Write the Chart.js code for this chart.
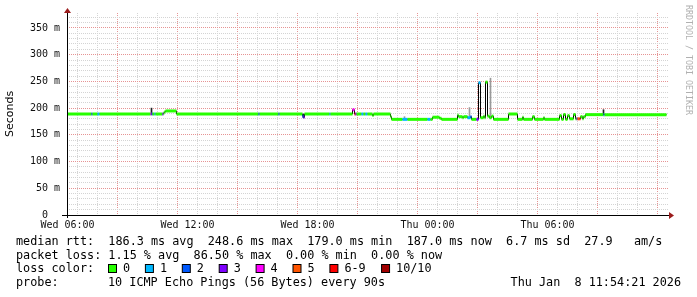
<!DOCTYPE html>
<html>
<head>
<meta charset="utf-8">
<script src="https://cdn.jsdelivr.net/npm/chart.js@4.4.0/dist/chart.umd.min.js"></script>
<style>
  html, body { margin: 0; padding: 0; background: #fff; }
  #stat { display: block; }
</style>
</head>
<body>
<canvas id="stat" width="697" height="297"></canvas>
<script>
// hours since Wed 00:00, median rtt (ms) and lost pings (of 10) for each step
const times = [6.00, 7.20, 7.25, 7.50, 7.60, 10.15, 10.20, 10.25, 10.35, 10.40,
    10.75, 10.80, 10.85, 10.90, 11.45, 15.55, 15.60, 16.55, 16.60, 17.75,
    17.80, 17.85, 19.10, 19.15, 20.25, 20.35, 20.40, 20.45, 20.70, 20.80,
    20.90, 21.00, 21.25, 21.30, 22.15, 22.20, 22.75, 23.00, 24.00, 24.15,
    24.25, 24.60, 24.70, 25.50, 25.55, 25.75, 25.80, 26.00, 26.15, 26.20,
    26.45, 26.55, 26.65, 26.80, 26.85, 26.90, 27.00, 27.10, 27.20, 27.30,
    28.05, 28.50, 28.75, 28.80, 29.25, 29.35, 29.80, 29.85, 30.60, 30.70,
    30.80, 30.90, 31.00, 31.10, 31.30, 31.40, 31.45, 31.50, 31.60, 31.65,
    31.75, 31.80, 31.90, 32.80, 32.85];
const median = [189, 189, 189, 189, 189, 189, 189, 189, 189, 189,
    189, 191, 193, 194.7, 189, 189, 189, 189, 189, 185,
    183, 189, 189, 189, 197, 189, 189, 189, 189, 189,
    189, 189, 186, 189, 184, 179, 179, 179, 179, 179,
    183, 181, 179, 187, 184, 182, 184, 182, 184, 179,
    179, 247.5, 182, 185, 182, 248.6, 185, 182, 185, 179,
    189, 179, 183, 179, 184, 179, 182, 179, 186, 179,
    188, 179, 186, 180, 188, 180, 180, 180, 180, 184,
    180, 184, 187.8, 187.8, 187.8];
const lost = [0, 2, 0, 1, 0, 4, 2, 0, 1, 0,
    3, 0, 0, 0, 0, 2, 0, 2, 0, 2,
    3, 0, 1, 0, 4, 6, 3, 0, 1, 0,
    1, 0, 0, 0, 0, 0, 1, 0, 1, 0,
    0, 0, 0, 0, 0, 0, 0, 1, 2, 0,
    3, 1, 0, 0, 0, 0, 0, 0, 0, 0,
    0, 0, 0, 0, 0, 0, 0, 0, 0, 0,
    0, 0, 0, 0, 0, 0, 3, 5, 6, 0,
    0, 0, 0, 2, 0];
const endTime = 35.95;

// smoke: ping spread where it shows past the median line
const smokeTimes = [10.20, 17.80, 22.85, 26.10, 27.15, 32.80];
const smokeLow = [188, 182, 179, 184, 183, 188];
const smokeHigh = [200, 189, 184, 201, 256, 197];
const smokePings = [8, 8, 3, 3, 2, 8];

const lossLabels = ['0', '1', '2', '3', '4', '5', '6-9', '10/10'];
const lossColors = ['#26ff00', '#00b8ff', '#0059ff', '#7e00ff', '#ff00ff', '#ff5500', '#ff0000', '#a10000'];
const dayNames = ['Wed', 'Thu'];

const rttLine = 'median rtt:  186.3 ms avg  248.6 ms max  179.0 ms min  187.0 ms now  6.7 ms sd  27.9   am/s';
const lossLine = 'packet loss: 1.15 % avg  86.50 % max  0.00 % min  0.00 % now';
const probeLine = '10 ICMP Echo Pings (56 Bytes) every 90s';
const stamp = 'Thu Jan  8 11:54:21 2026';

function loss_index(n) {
    if (n >= 10) return 7;
    if (n >= 6) return 6;
    return n;
}

// colored runs, one per step, broken by nulls so transitions stay thin and dark
let runPts = [], runCol = [];
for (let i = 0; i < times.length; i++) {
    let t1 = i + 1 < times.length ? times[i + 1] : endTime;
    let c = lossColors[loss_index(lost[i])];
    runPts.push({x: times[i], y: median[i]}, {x: t1, y: median[i]}, {x: t1, y: null});
    runCol.push(c, c, c);
}
let stepPts = times.map((t, i) => ({x: t, y: median[i]}));
stepPts.push({x: endTime, y: median[median.length - 1]});
let smokePts = smokeTimes.map((t, i) => ({x: t, y: [smokeLow[i], smokeHigh[i]]}));
let smokeCol = smokePings.map(n => n > 5 ? '#202020' : '#9a9a9a');

const MONO = "'DejaVu Sans Mono', monospace";
const minorGrid = '#d4d4d4';
const majorGrid = '#e69494';

function grid_color(c, every) {
    if (!c.tick) return minorGrid;
    return Math.round(c.tick.value) % every === 0 ? majorGrid : minorGrid;
}

function tick_list(from, to, step) {
    let out = [];
    for (let v = from; v <= to; v += step) out.push({value: v});
    return out;
}

let decor = {
    id: 'decor',
    afterDraw(chart) {
        let ctx = chart.ctx;
        let a = chart.chartArea;
        ctx.save();
        // axes
        ctx.strokeStyle = '#000';
        ctx.lineWidth = 1;
        ctx.beginPath();
        ctx.moveTo(62, a.bottom + 0.5);
        ctx.lineTo(a.right + 2, a.bottom + 0.5);
        ctx.moveTo(a.left + 0.5, a.bottom + 3);
        ctx.lineTo(a.left + 0.5, a.top - 3);
        ctx.stroke();
        ctx.fillStyle = '#9b1c1c';
        ctx.beginPath();
        ctx.moveTo(a.right + 1, a.bottom - 3);
        ctx.lineTo(a.right + 6, a.bottom + 0.5);
        ctx.lineTo(a.right + 1, a.bottom + 4);
        ctx.fill();
        ctx.beginPath();
        ctx.moveTo(a.left - 3, a.top);
        ctx.lineTo(a.left + 0.5, a.top - 5);
        ctx.lineTo(a.left + 4, a.top);
        ctx.fill();

        // watermark
        ctx.save();
        ctx.translate(688, 5);
        ctx.rotate(Math.PI / 2);
        ctx.fillStyle = '#b0b0b0';
        ctx.font = '8.3px ' + MONO;
        ctx.textBaseline = 'middle';
        ctx.fillText('RRDTOOL / TOBI OETIKER', 0, 0);
        ctx.restore();

        // legend text
        ctx.fillStyle = '#000';
        ctx.font = '11.8px ' + MONO;
        ctx.textBaseline = 'middle';
        ctx.textAlign = 'left';
        ctx.fillText(rttLine, 16, 242);
        ctx.fillText(lossLine, 16, 255.5);
        ctx.fillText('loss color:', 16, 269);
        ctx.fillText('probe:', 16, 283);
        ctx.fillText(probeLine, 108, 283);
        ctx.textAlign = 'right';
        ctx.fillText(stamp, 681, 283);
        ctx.textAlign = 'left';
        let bx = 108.5;
        for (let i = 0; i < lossLabels.length; i++) {
            ctx.fillStyle = lossColors[i];
            ctx.fillRect(bx, 264.5, 8, 8);
            ctx.strokeRect(bx, 264.5, 8, 8);
            ctx.fillStyle = '#000';
            ctx.fillText(lossLabels[i], bx + 14.5, 269);
            bx += 7.38 * (lossLabels[i].length + 4);
        }
        ctx.restore();
    }
};

new Chart(document.getElementById('stat').getContext('2d'), {
    type: 'line',
    data: {
        datasets: [
            {
                data: runPts,
                borderWidth: 3,
                borderCapStyle: 'butt',
                pointRadius: 0,
                spanGaps: false,
                segment: {borderColor: c => runCol[c.p0DataIndex]}
            },
            {
                data: stepPts,
                stepped: true,
                borderColor: '#000',
                borderWidth: 1,
                pointRadius: 0
            },
            {
                type: 'bar',
                data: smokePts,
                backgroundColor: smokeCol,
                barThickness: 1,
                grouped: false
            }
        ]
    },
    options: {
        responsive: false,
        animation: false,
        events: [],
        layout: {padding: {left: 0, top: 13, right: 29, bottom: 0}},
        plugins: {legend: {display: false}, tooltip: {enabled: false}},
        scales: {
            x: {
                type: 'linear',
                min: 5.975,
                max: 36.025,
                offset: false,
                afterFit: s => { s.height = 82; },
                afterBuildTicks: s => { s.ticks = tick_list(6, 36, 1); },
                border: {display: false, dash: [1, 1]},
                grid: {
                    drawTicks: false,
                    color: c => grid_color(c, 3)
                },
                ticks: {
                    autoSkip: false,
                    maxRotation: 0,
                    padding: 4,
                    color: '#111',
                    font: {family: MONO, size: 10},
                    callback: v => {
                        let h = Math.round(v);
                        if (h % 6 !== 0 || h > 35) return '';
                        let hh = h % 24;
                        return dayNames[Math.floor(h / 24)] + ' ' + (hh < 10 ? '0' : '') + hh + ':00';
                    }
                }
            },
            y: {
                min: 0,
                max: 378,
                afterFit: s => { s.width = 67; },
                afterBuildTicks: s => { s.ticks = tick_list(0, 370, 10); },
                border: {display: false, dash: [1, 1]},
                grid: {
                    drawTicks: false,
                    color: c => grid_color(c, 50)
                },
                title: {
                    display: true,
                    text: 'Seconds',
                    color: '#000',
                    font: {family: "'DejaVu Sans', sans-serif", size: 11},
                    padding: {top: 3.5, bottom: 0}
                },
                ticks: {
                    autoSkip: false,
                    padding: 7,
                    color: '#111',
                    font: {family: MONO, size: 10},
                    callback: v => {
                        let n = Math.round(v);
                        if (n % 50 !== 0) return '';
                        return n === 0 ? '0  ' : n + ' m';
                    }
                }
            }
        }
    },
    plugins: [decor]
});
</script>
</body>
</html>
